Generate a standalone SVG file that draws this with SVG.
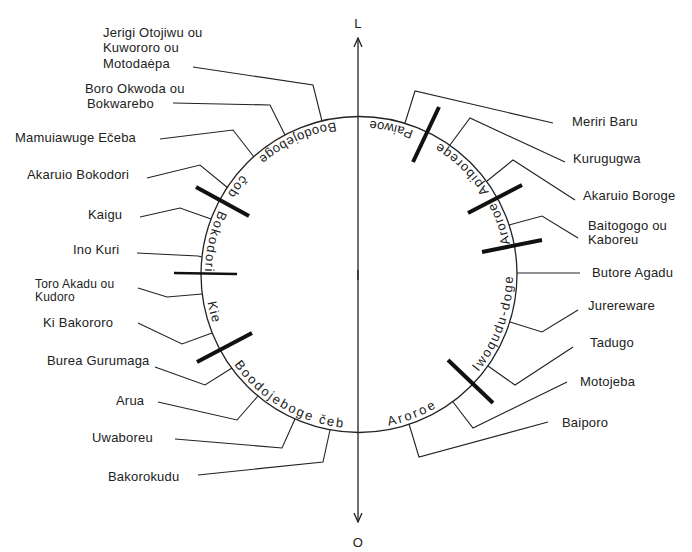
<svg xmlns="http://www.w3.org/2000/svg" width="692" height="552" viewBox="0 0 692 552">
<style>
  .lbl { font-family: "Liberation Sans", Arial, sans-serif; font-size: 13px; fill: #222; letter-spacing: 0.2px; }
  .sm { font-size: 12px; }
  .arc { font-family: "Liberation Sans", Arial, sans-serif; font-size: 13px; fill: #222; }
  .lead { fill: none; stroke: #222; stroke-width: 1.1; stroke-linejoin: miter; }
  .bar { stroke: #111; stroke-width: 4; stroke-linecap: butt; }
  .ring { fill: none; stroke: #222; stroke-width: 1.3; }
  .axis { stroke: #222; stroke-width: 1.3; fill: none; }
</style>
<defs>
  <path id="tp" d="M 359 120.5 A 154 154 0 1 0 359 428.5 A 154 154 0 1 0 359 120.5"/>
  <marker id="arr" viewBox="0 0 10 10" refX="9" refY="5" markerWidth="10" markerHeight="10" markerUnits="userSpaceOnUse" orient="auto">
    <path d="M 0 1 L 9 5 L 0 9" fill="none" stroke="#222" stroke-width="1.3"/>
  </marker>
</defs>
<rect width="692" height="552" fill="#fff"/>

<g id="axis">
  <line class="axis" x1="358" y1="280" x2="358" y2="38" marker-end="url(#arr)"/>
  <line class="axis" x1="358" y1="270" x2="358" y2="522" marker-end="url(#arr)"/>
  <text class="lbl" x="358" y="28" text-anchor="middle">L</text>
  <text class="lbl" x="358" y="547" text-anchor="middle">O</text>
</g>

<g id="ring">
  <circle class="ring" cx="359" cy="274.5" r="158"/>
</g>

<g id="bars">
  <line class="bar" x1="413" y1="162" x2="439" y2="107"/>
  <line class="bar" x1="468" y1="213" x2="522" y2="185"/>
  <line class="bar" x1="482" y1="252" x2="542" y2="240"/>
  <line class="bar" x1="448" y1="360" x2="493" y2="403"/>
  <line class="bar" x1="197" y1="362" x2="252" y2="333"/>
  <line class="bar" x1="174" y1="273" x2="237" y2="274" style="stroke-width:2.5"/>
  <line class="bar" x1="196" y1="187" x2="249" y2="216"/>
</g>

<g id="clans">
  <text class="arc" letter-spacing="0.9"><textPath href="#tp" startOffset="67" text-anchor="middle">Boodojeboge</textPath></text>
  <text class="arc" letter-spacing="1.5"><textPath href="#tp" startOffset="146" text-anchor="middle">čob</textPath></text>
  <text class="arc" letter-spacing="1.7"><textPath href="#tp" startOffset="208" text-anchor="middle">Bokodori</textPath></text>
  <text class="arc" letter-spacing="1.2"><textPath href="#tp" startOffset="281" text-anchor="middle">Kie</textPath></text>
  <text class="arc" letter-spacing="2"><textPath href="#tp" startOffset="403.6" text-anchor="middle">Boodojeboge čeb</textPath></text>
  <text class="arc" letter-spacing="2.4"><textPath href="#tp" startOffset="540" text-anchor="middle">Aroroe</textPath></text>
  <text class="arc" letter-spacing="1.9"><textPath href="#tp" startOffset="672.7" text-anchor="middle">Iwoqudu-doge</textPath></text>
  <text class="arc" letter-spacing="1"><textPath href="#tp" startOffset="779" text-anchor="middle">Aroroe</textPath></text>
  <text class="arc" letter-spacing="1.4"><textPath href="#tp" startOffset="848.4" text-anchor="middle">Apiboreqe</textPath></text>
  <text class="arc" letter-spacing="0.5"><textPath href="#tp" startOffset="934" text-anchor="middle">Paiwoe</textPath></text>
</g>

<g id="connectors">
  <polyline class="lead" points="193,67 313,85 322,121"/>
  <polyline class="lead" points="173,103 270,105 285,135"/>
  <polyline class="lead" points="160,139 233,130 254,157"/>
  <polyline class="lead" points="147,178 200,165 228,188"/>
  <polyline class="lead" points="140,217 180,208 211,219"/>
  <polyline class="lead" points="137,253 198,256 202,257"/>
  <polyline class="lead" points="138,288 167,297 202,294"/>
  <polyline class="lead" points="138,323 182,344 212,333"/>
  <polyline class="lead" points="155,367 205,385 232,368"/>
  <polyline class="lead" points="158,402 237,420 258,396"/>
  <polyline class="lead" points="175,439 282,448 295,419"/>
  <polyline class="lead" points="198,475 323,462 330,430"/>
  <polyline class="lead" points="405,123 415,91 553,123"/>
  <polyline class="lead" points="450,145 470,118 565,162"/>
  <polyline class="lead" points="487,181 513,160 575,200"/>
  <polyline class="lead" points="509,225 542,216 578,238"/>
  <polyline class="lead" points="517,273 580,273"/>
  <polyline class="lead" points="510,322 542,332 578,310"/>
  <polyline class="lead" points="488,366 515,385 573,347"/>
  <polyline class="lead" points="453,402 473,428 567,382"/>
  <polyline class="lead" points="409,424 419,457 548,422"/>
</g>

<g id="n-jerigi"><text class="lbl" x="103" y="37">Jerigi Otojiwu ou</text><text class="lbl" x="103" y="52">Kuwororo ou</text><text class="lbl" x="103" y="68">Motodaėpa</text></g>
<g id="n-boro"><text class="lbl" x="85" y="93">Boro Okwoda ou</text><text class="lbl" x="87" y="108">Bokwarebo</text></g>
<g id="n-mamuiawuge"><text class="lbl" x="15" y="142">Mamuiawuge Ečeba</text></g>
<g id="n-akaruio-bokodori"><text class="lbl" x="27" y="179">Akaruio Bokodori</text></g>
<g id="n-kaigu"><text class="lbl" x="88" y="219">Kaigu</text></g>
<g id="n-ino-kuri"><text class="lbl" x="73" y="254">Ino Kuri</text></g>
<g id="n-toro"><text class="lbl sm" x="35" y="288">Toro Akadu ou</text><text class="lbl sm" x="35" y="301">Kudoro</text></g>
<g id="n-ki-bakororo"><text class="lbl" x="43" y="327">Ki Bakororo</text></g>
<g id="n-burea"><text class="lbl" x="47" y="365">Burea Gurumaga</text></g>
<g id="n-arua"><text class="lbl" x="116" y="405">Arua</text></g>
<g id="n-uwaboreu"><text class="lbl" x="92" y="442">Uwaboreu</text></g>
<g id="n-bakorokudu"><text class="lbl" x="108" y="481">Bakorokudu</text></g>
<g id="n-meriri"><text class="lbl" x="572" y="126">Meriri Baru</text></g>
<g id="n-kurugugwa"><text class="lbl" x="573" y="163">Kurugugwa</text></g>
<g id="n-akaruio-boroge"><text class="lbl" x="583" y="200">Akaruio Boroge</text></g>
<g id="n-baitogogo"><text class="lbl" x="588" y="230">Baitogogo ou</text><text class="lbl" x="588" y="244">Kaboreu</text></g>
<g id="n-butore"><text class="lbl" x="592" y="277">Butore Agadu</text></g>
<g id="n-jurereware"><text class="lbl" x="588" y="310">Jurereware</text></g>
<g id="n-tadugo"><text class="lbl" x="590" y="347">Tadugo</text></g>
<g id="n-motojeba"><text class="lbl" x="580" y="386">Motojeba</text></g>
<g id="n-baiporo"><text class="lbl" x="562" y="427">Baiporo</text></g>
</svg>
